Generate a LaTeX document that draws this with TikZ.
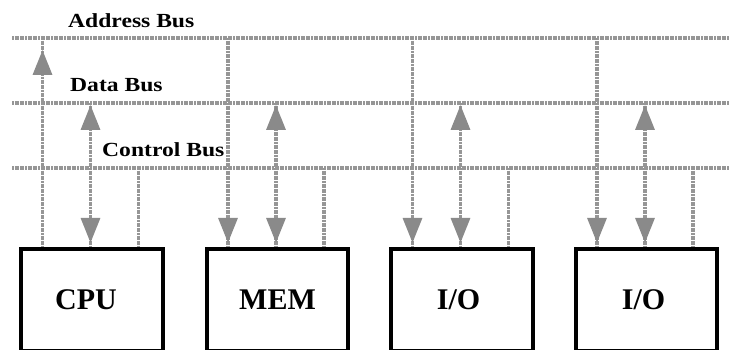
\documentclass[tikz,border=0pt]{standalone}
\usepackage{graphicx}
\usepackage{fontspec}
\setmainfont{Liberation Serif}
\usetikzlibrary{arrows.meta,decorations.markings}

\definecolor{busgray}{RGB}{150,150,150}
\definecolor{tipgray}{RGB}{138,138,138}

\tikzset{
  x=1pt, y=-1pt,
  gtip/.tip={Triangle[width=19pt,length=25pt,fill=tipgray,color=tipgray]},
  busline/.style={draw=busgray, line width=3.4pt,
      dash pattern=on 2pt off 0.6pt},
  wire/.style={busline},
  % arrowhead pointing up, its tip a given distance below the bus
  upat/.style={postaction={decorate,decoration={markings,
      mark=at position #1 with {\arrowreversed{gtip}}}}},
  % arrowhead pointing down onto the unit
  downat/.style={postaction={decorate,decoration={markings,
      mark=at position -4pt with {\arrow{gtip}}}}},
  unit/.style={draw=black, line width=3.8pt, fill=white, rectangle,
      minimum width=141.5pt, minimum height=102.5pt, inner sep=0pt,
      font=\fontsize{30}{32}\selectfont\bfseries},
  buslabel/.style={inner sep=0pt, anchor=base west,
      font=\fontsize{20}{22}\selectfont\bfseries}
}

\begin{document}
\begin{tikzpicture}
\useasboundingbox (0,0) rectangle (729,350);
\clip (0,0) rectangle (729,350);

% bus lines
\coordinate (ab) at (12,38);  \coordinate (ab-e) at (729,38);
\coordinate (db) at (12,103); \coordinate (db-e) at (729,103);
\coordinate (cb) at (12,168); \coordinate (cb-e) at (729,168);
\draw[busline] (ab) -- (ab-e);
\draw[busline] (db) -- (db-e);
\draw[busline] (cb) -- (cb-e);

% bus names
\node[buslabel] (lab-a) at (68,28)  {\scalebox{1.18}[1]{Address Bus}};
\node[buslabel] (lab-d) at (70,92)  {\scalebox{1.18}[1]{Data Bus}};
\node[buslabel] (lab-c) at (102,157) {\scalebox{1.18}[1]{Control Bus}};

% units
\node[unit] (cpu) at (92,300)    {CPU\kern12pt};
\node[unit] (mem) at (277.5,300) {MEM};
\node[unit] (io1) at (462,300)   {I/O\kern7pt};
\node[unit] (io2) at (646.5,300) {I/O\kern6pt};

% pins on the top edge of each unit: address, data, control
\foreach \u in {cpu,mem,io1,io2}{
  \coordinate (\u-a) at ([xshift=-49.5pt]\u.north);
  \coordinate (\u-d) at ([xshift=-1.5pt]\u.north);
  \coordinate (\u-c) at ([xshift=46.5pt]\u.north);
}

% CPU drives the address bus
\draw[wire, upat=12pt] (ab -| cpu-a) -- (cpu-a);
\draw[wire, upat=2pt, downat] (db -| cpu-d) -- (cpu-d);
\draw[wire] (cb -| cpu-c) -- (cpu-c);

% memory and I/O listen on the address bus
\foreach \u in {mem,io1,io2}{
  \draw[wire, downat] (ab -| \u-a) -- (\u-a);
  \draw[wire, upat=2pt, downat] (db -| \u-d) -- (\u-d);
  \draw[wire] (cb -| \u-c) -- (\u-c);
}
\end{tikzpicture}
\end{document}
